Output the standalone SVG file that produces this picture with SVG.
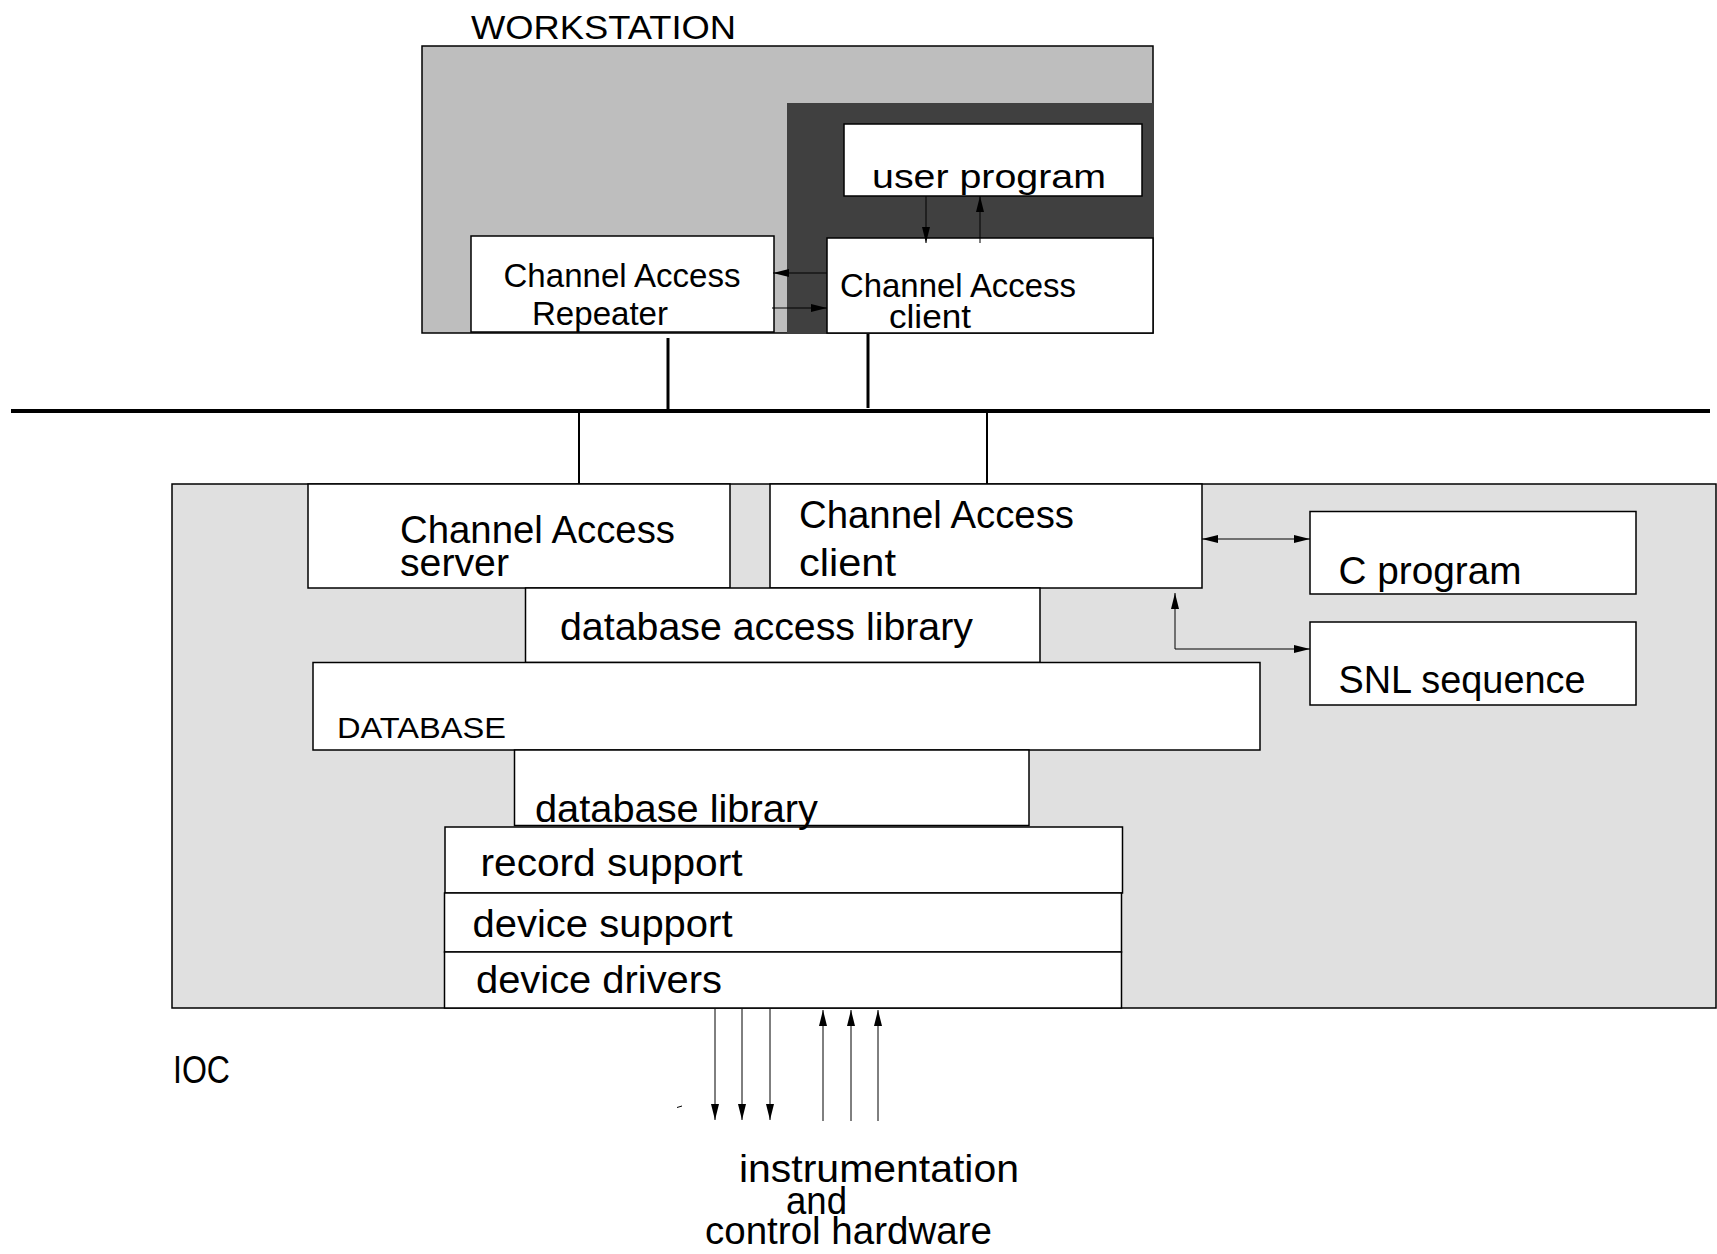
<svg xmlns="http://www.w3.org/2000/svg" width="1717" height="1254" viewBox="0 0 1717 1254">
  <style>
    .box { fill: #ffffff; stroke: #000000; stroke-width: 1.5; }
    .lbl { font-family: "Liberation Sans", Arial, Helvetica, sans-serif; fill: #000000; }
    .big { font-size: 38px; }
    .mid { font-size: 34px; }
    .small { font-size: 30px; }
    .conn { stroke: #000000; stroke-width: 1; fill: none; }
    .bus { stroke: #000000; fill: none; }
  </style>
  <defs>
    <marker id="arrow" markerUnits="userSpaceOnUse" markerWidth="18" markerHeight="10" refX="16" refY="4" orient="auto-start-reverse">
      <path d="M0,0 L16,4 L0,8 z" fill="#000000"/>
    </marker>
  </defs>

  <rect x="0" y="0" width="1717" height="1254" fill="#ffffff"/>

  <!-- workstation host -->
  <g id="workstation">
    <rect x="422" y="46" width="731" height="287" fill="#bebebe" stroke="#000000" stroke-width="1.5"/>
    <rect x="787" y="103" width="366" height="230" fill="#404040"/>
    <text class="lbl mid" x="471" y="39" textLength="265" lengthAdjust="spacingAndGlyphs">WORKSTATION</text>
  </g>

  <g id="user-program">
    <rect class="box" x="844" y="124" width="298" height="72"/>
    <text class="lbl mid" x="872" y="188" textLength="234" lengthAdjust="spacingAndGlyphs">user program</text>
  </g>

  <g id="ca-repeater">
    <rect class="box" x="471" y="236" width="303" height="96"/>
    <text class="lbl mid" x="503.5" y="287" textLength="237" lengthAdjust="spacingAndGlyphs">Channel Access</text>
    <text class="lbl mid" x="532" y="325" textLength="136" lengthAdjust="spacingAndGlyphs">Repeater</text>
  </g>

  <g id="ws-ca-client">
    <rect class="box" x="827" y="238" width="326" height="95"/>
    <text class="lbl mid" x="840" y="297" textLength="236" lengthAdjust="spacingAndGlyphs">Channel Access</text>
    <text class="lbl mid" x="889" y="328" textLength="82" lengthAdjust="spacingAndGlyphs">client</text>
  </g>

  <!-- IOC host -->
  <g id="ioc">
    <rect x="172" y="484" width="1544" height="524" fill="#e0e0e0" stroke="#000000" stroke-width="1.5"/>
    <text class="lbl big" x="173" y="1083" textLength="57" lengthAdjust="spacingAndGlyphs">IOC</text>
  </g>

  <g id="ca-server">
    <rect class="box" x="308" y="484" width="422" height="104"/>
    <text class="lbl big" x="400" y="543" textLength="275" lengthAdjust="spacingAndGlyphs">Channel Access</text>
    <text class="lbl big" x="400" y="576" textLength="109" lengthAdjust="spacingAndGlyphs">server</text>
  </g>

  <g id="ioc-ca-client">
    <rect class="box" x="770" y="484" width="432" height="104"/>
    <text class="lbl big" x="799" y="528" textLength="275" lengthAdjust="spacingAndGlyphs">Channel Access</text>
    <text class="lbl big" x="799" y="576" textLength="97" lengthAdjust="spacingAndGlyphs">client</text>
  </g>

  <g id="db-access-library">
    <rect class="box" x="525.5" y="588" width="514.5" height="74.5"/>
    <text class="lbl big" x="560" y="640" textLength="413" lengthAdjust="spacingAndGlyphs">database access library</text>
  </g>

  <g id="database">
    <rect class="box" x="313" y="662.5" width="947" height="87.5"/>
    <text class="lbl small" x="337" y="738" textLength="169" lengthAdjust="spacingAndGlyphs">DATABASE</text>
  </g>

  <g id="record-support">
    <rect class="box" x="445" y="827" width="677.5" height="66"/>
    <text class="lbl big" x="480.5" y="876" textLength="262" lengthAdjust="spacingAndGlyphs">record support</text>
  </g>

  <g id="device-support">
    <rect class="box" x="444.5" y="893" width="677" height="59"/>
    <text class="lbl big" x="472.5" y="937" textLength="260" lengthAdjust="spacingAndGlyphs">device support</text>
  </g>

  <g id="device-drivers">
    <rect class="box" x="444.5" y="952" width="677" height="56"/>
    <text class="lbl big" x="476" y="993" textLength="246" lengthAdjust="spacingAndGlyphs">device drivers</text>
  </g>

  <g id="database-library">
    <rect class="box" x="514.5" y="750" width="514.5" height="75.5"/>
    <text class="lbl big" x="535" y="821.5" textLength="283" lengthAdjust="spacingAndGlyphs">database library</text>
  </g>

  <g id="c-program">
    <rect class="box" x="1310" y="511.5" width="326" height="82.5"/>
    <text class="lbl big" x="1338.5" y="584" textLength="183" lengthAdjust="spacingAndGlyphs">C program</text>
  </g>

  <g id="snl-sequence">
    <rect class="box" x="1310" y="622" width="326" height="83"/>
    <text class="lbl big" x="1338.5" y="693" textLength="247" lengthAdjust="spacingAndGlyphs">SNL sequence</text>
  </g>

  <g id="hardware">
    <text class="lbl big" x="739" y="1182" textLength="280" lengthAdjust="spacingAndGlyphs">instrumentation</text>
    <text class="lbl big" x="786" y="1214" textLength="61" lengthAdjust="spacingAndGlyphs">and</text>
    <text class="lbl big" x="705" y="1243.5" textLength="287" lengthAdjust="spacingAndGlyphs">control hardware</text>
  </g>

  <!-- network and data paths -->
  <g id="connectors">
    <line class="bus" x1="11" y1="411" x2="1710" y2="411" stroke-width="4"/>
    <line class="bus" x1="668" y1="338" x2="668" y2="411" stroke-width="3"/>
    <line class="bus" x1="868" y1="334" x2="868" y2="408" stroke-width="3"/>
    <line class="bus" x1="579" y1="411" x2="579" y2="484" stroke-width="2"/>
    <line class="bus" x1="987" y1="411" x2="987" y2="484" stroke-width="2"/>

    <path class="conn" d="M926,196 V243" marker-end="url(#arrow)"/>
    <path class="conn" d="M980,243 V196" marker-end="url(#arrow)"/>
    <path class="conn" d="M827,273 H773" marker-end="url(#arrow)"/>
    <path class="conn" d="M772,308 H827" marker-end="url(#arrow)"/>

    <path class="conn" d="M1202,539 H1310" marker-start="url(#arrow)" marker-end="url(#arrow)"/>
    <path class="conn" d="M1175,649 H1310" marker-end="url(#arrow)"/>
    <path class="conn" d="M1175,649 V593" marker-end="url(#arrow)"/>

    <path class="conn" d="M715,1009 V1120" marker-end="url(#arrow)"/>
    <path class="conn" d="M742,1009 V1120" marker-end="url(#arrow)"/>
    <path class="conn" d="M770,1009 V1120" marker-end="url(#arrow)"/>
    <path class="conn" d="M823,1121 V1010" marker-end="url(#arrow)"/>
    <path class="conn" d="M851,1121 V1010" marker-end="url(#arrow)"/>
    <path class="conn" d="M878,1121 V1010" marker-end="url(#arrow)"/>
    <line class="conn" x1="677" y1="1107.5" x2="682" y2="1106"/>
  </g>
</svg>
